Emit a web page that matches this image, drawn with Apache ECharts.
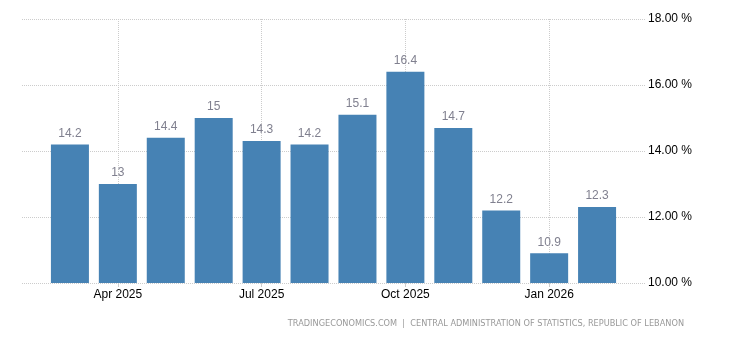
<!DOCTYPE html>
<html>
<head>
<meta charset="utf-8">
<script src="https://cdn.jsdelivr.net/npm/echarts@6/dist/echarts.min.js"></script>
<style>
html,body{margin:0;padding:0;background:#fff;}
#chart{width:730px;height:340px;}
</style>
</head>
<body>
<div id="chart"></div>
<script>
var categories = ['Mar 2025','Apr 2025','May 2025','Jun 2025','Jul 2025','Aug 2025','Sep 2025','Oct 2025','Nov 2025','Dec 2025','Jan 2026','Feb 2026'];
var values = [14.2, 13, 14.4, 15, 14.3, 14.2, 15.1, 16.4, 14.7, 12.2, 10.9, 12.3];
var tickLabels = ['Apr 2025','Jul 2025','Oct 2025','Jan 2026'];
var yTicks = [10, 12, 14, 16, 18];
var sourceText = 'TRADINGECONOMICS.COM  |  CENTRAL ADMINISTRATION OF STATISTICS, REPUBLIC OF LEBANON';

var xData = [''].concat(categories).concat(['']);
var barData = [null].concat(values).concat([null]);
function isLabeled(i, v) { return tickLabels.indexOf(v) >= 0; }

var chart = echarts.init(document.getElementById('chart'), null, {renderer: 'canvas'});
chart.setOption({
  animation: false,
  backgroundColor: '#ffffff',
  grid: {left: 22, right: 85, top: 19, bottom: 57, containLabel: false},
  xAxis: {
    type: 'category',
    boundaryGap: false,
    data: xData,
    axisLine: {show: false},
    axisTick: {show: true, interval: isLabeled, length: 4, lineStyle: {color: '#cccccc'}},
    splitLine: {show: true, interval: isLabeled, lineStyle: {color: '#cccccc', type: 'dotted'}},
    axisLabel: {interval: isLabeled, color: '#000000', fontSize: 12, fontFamily: 'Liberation Sans, Arial, sans-serif', margin: 6}
  },
  yAxis: {
    type: 'value',
    position: 'right',
    min: yTicks[0],
    max: yTicks[yTicks.length - 1],
    interval: 2,
    axisLine: {show: false},
    axisTick: {show: false},
    splitLine: {show: true, lineStyle: {color: '#cccccc', type: 'dotted'}},
    axisLabel: {
      formatter: function (v) { return v.toFixed(2) + ' %'; },
      color: '#000000', fontSize: 12, fontFamily: 'Liberation Sans, Arial, sans-serif', margin: 3,
      padding: [2, 0, 0, 0]
    }
  },
  series: [{
    type: 'bar',
    data: barData,
    barWidth: 38,
    itemStyle: {color: '#4682B4'},
    label: {
      show: true, position: 'top', distance: 5,
      color: '#80808f', fontSize: 12, fontFamily: 'Liberation Sans, Arial, sans-serif',
      formatter: function (p) { return p.value == null ? '' : String(p.value); }
    }
  }],
  graphic: [{
    type: 'text',
    right: 46,
    top: 320,
    style: {
      text: sourceText,
      fill: '#999999',
      font: '8.2px "DejaVu Sans", Verdana, sans-serif'
    }
  }]
});
</script>
</body>
</html>
